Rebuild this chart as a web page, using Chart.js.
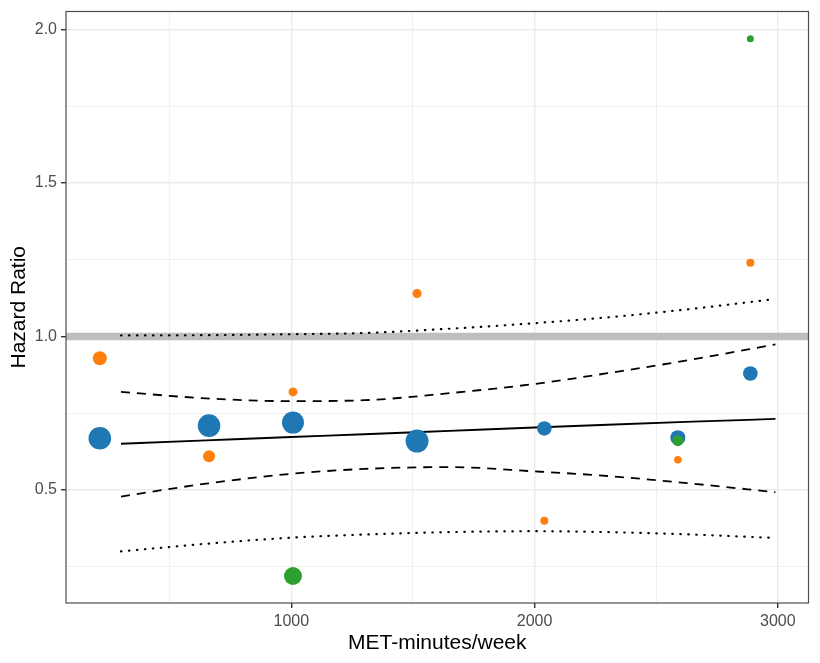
<!DOCTYPE html>
<html>
<head>
<meta charset="utf-8">
<script src="https://cdn.jsdelivr.net/npm/chart.js@4.4.0/dist/chart.umd.min.js"></script>
<style>
  html, body { margin: 0; padding: 0; background: #fff; }
  #wrap { width: 820px; height: 663px; }
</style>
</head>
<body>
<div id="wrap"><canvas id="chart" width="820" height="663"></canvas></div>
<script>
// Axis limits
const X_MIN = 74, X_MAX = 3126;
const Y_MIN = 0.131, Y_MAX = 2.059;

// Grid positions; labelled ones are the majors
const xGrid = [500, 1000, 1500, 2000, 2500, 3000];
const xLabels = [1000, 2000, 3000];
const yGrid = [0.25, 0.5, 0.75, 1.0, 1.25, 1.5, 1.75, 2.0];
const yLabels = [0.5, 1.0, 1.5, 2.0];

// Study estimates (x = MET-minutes/week, y = hazard ratio)
const blueX = [213, 662, 1007, 1517, 2040, 2589, 2887];
const blueY = [0.668, 0.709, 0.719, 0.659, 0.700, 0.670, 0.879];
const blueR = [11.3, 11.3, 11, 11.5, 7.3, 7.5, 7.3];

const orangeX = [213, 662, 1007, 1517, 2040, 2589, 2887];
const orangeY = [0.929, 0.609, 0.819, 1.140, 0.399, 0.598, 1.240];
const orangeR = [7, 6, 4.5, 4.5, 4, 3.8, 4];

const greenX = [1007, 2589, 2887];
const greenY = [0.219, 0.660, 1.970];
const greenR = [9, 5.5, 3.5];

// Fitted dose-response curve and bands
const fitX = [300, 650, 1000, 1300, 1650, 2000, 2300, 2650, 2990];
const fitY = [0.650, 0.661, 0.672, 0.681, 0.692, 0.703, 0.712, 0.722, 0.731];
const ciUpper = [0.819, 0.798, 0.789, 0.792, 0.815, 0.845, 0.880, 0.925, 0.974];
const ciLower = [0.478, 0.520, 0.552, 0.568, 0.574, 0.560, 0.545, 0.520, 0.492];
const piUpper = [1.003, 1.004, 1.007, 1.011, 1.025, 1.043, 1.062, 1.090, 1.122];
const piLower = [0.299, 0.324, 0.344, 0.354, 0.362, 0.365, 0.362, 0.354, 0.343];

const REF_Y = 1.0;

const pts = (xs, ys) => xs.map((x, i) => ({ x: x, y: ys[i] }));

const panelBorder = {
    id: 'panelBorder',
    beforeDraw(chart) {
        const ctx = chart.ctx;
        ctx.save();
        ctx.fillStyle = '#fff';
        ctx.fillRect(0, 0, chart.width, chart.height);
        ctx.restore();
    },
    afterDraw(chart) {
        const { ctx, chartArea: a } = chart;
        ctx.save();
        ctx.strokeStyle = '#4d4d4d';
        ctx.lineWidth = 1.2;
        ctx.strokeRect(a.left, a.top, a.right - a.left, a.bottom - a.top);
        ctx.restore();
    }
};

const near = (v, list) => list.some(m => Math.abs(m - v) < 1e-6);
const isMajorX = v => near(v, xLabels);
const isMajorY = v => near(v, yLabels);

function lineSet(ys, dash, width, cap, order) {
    return {
        data: pts(fitX, ys),
        showLine: true,
        borderColor: '#000',
        borderWidth: width,
        borderDash: dash,
        borderCapStyle: cap,
        pointRadius: 0,
        cubicInterpolationMode: 'monotone',
        order: order
    };
}

function gridOpts(isMajor) {
    return {
        color: c => (c.tick && isMajor(c.tick.value)) ? '#ebebeb' : '#f0f0f0',
        lineWidth: c => (c.tick && isMajor(c.tick.value)) ? 1.4 : 1,
        tickColor: c => (c.tick && isMajor(c.tick.value)) ? '#333' : 'rgba(0,0,0,0)',
        tickLength: 5
    };
}

new Chart(document.getElementById('chart'), {
    type: 'scatter',
    data: {
        datasets: [
            {
                data: [{ x: X_MIN, y: REF_Y }, { x: X_MAX, y: REF_Y }],
                showLine: true,
                borderColor: '#bebebe',
                borderWidth: 7.5,
                pointRadius: 0,
                order: 10
            },
            lineSet(piUpper, [0.5, 7.5], 2.2, 'round', 9),
            lineSet(piLower, [0.5, 7.5], 2.2, 'round', 8),
            lineSet(ciUpper, [9, 7], 1.8, 'butt', 7),
            lineSet(ciLower, [9, 7], 1.8, 'butt', 6),
            lineSet(fitY, [], 1.8, 'butt', 5),
            {
                data: pts(blueX, blueY),
                backgroundColor: '#1f77b4',
                borderWidth: 0,
                pointRadius: blueR,
                order: 3
            },
            {
                data: pts(orangeX, orangeY),
                backgroundColor: '#ff7f0e',
                borderWidth: 0,
                pointRadius: orangeR,
                order: 2
            },
            {
                data: pts(greenX, greenY),
                backgroundColor: '#2ca02c',
                borderWidth: 0,
                pointRadius: greenR,
                order: 1
            }
        ]
    },
    options: {
        responsive: false,
        animation: false,
        events: [],
        layout: { padding: { left: 0, top: 9, right: 9, bottom: 0 } },
        plugins: { legend: { display: false }, tooltip: { enabled: false } },
        scales: {
            x: {
                type: 'linear',
                min: X_MIN,
                max: X_MAX,
                afterBuildTicks: axis => { axis.ticks = xGrid.map(v => ({ value: v })); },
                afterFit: s => { s.height = 60; s.paddingLeft = 0; s.paddingRight = 0; },
                border: { display: false },
                grid: gridOpts(isMajorX),
                ticks: {
                    autoSkip: false,
                    maxRotation: 0,
                    padding: 4,
                    color: '#4d4d4d',
                    font: { family: 'Liberation Sans', size: 16 },
                    callback: v => isMajorX(v) ? String(v) : ''
                },
                title: {
                    display: true,
                    text: 'MET-minutes/week',
                    color: '#000',
                    font: { family: 'Liberation Sans', size: 21 },
                    padding: { top: 2, bottom: 7 }
                }
            },
            y: {
                type: 'linear',
                min: Y_MIN,
                max: Y_MAX,
                afterBuildTicks: axis => { axis.ticks = yGrid.map(v => ({ value: v })); },
                afterFit: s => { s.width = 66; s.paddingTop = 0; s.paddingBottom = 0; },
                border: { display: false },
                grid: gridOpts(isMajorY),
                ticks: {
                    autoSkip: false,
                    padding: 4,
                    color: '#4d4d4d',
                    font: { family: 'Liberation Sans', size: 16 },
                    callback: v => isMajorY(v) ? v.toFixed(1) : ''
                },
                title: {
                    display: true,
                    text: 'Hazard Ratio',
                    color: '#000',
                    font: { family: 'Liberation Sans', size: 21 },
                    padding: { top: 7, bottom: 0 }
                }
            }
        }
    },
    plugins: [panelBorder]
});
</script>
</body>
</html>
